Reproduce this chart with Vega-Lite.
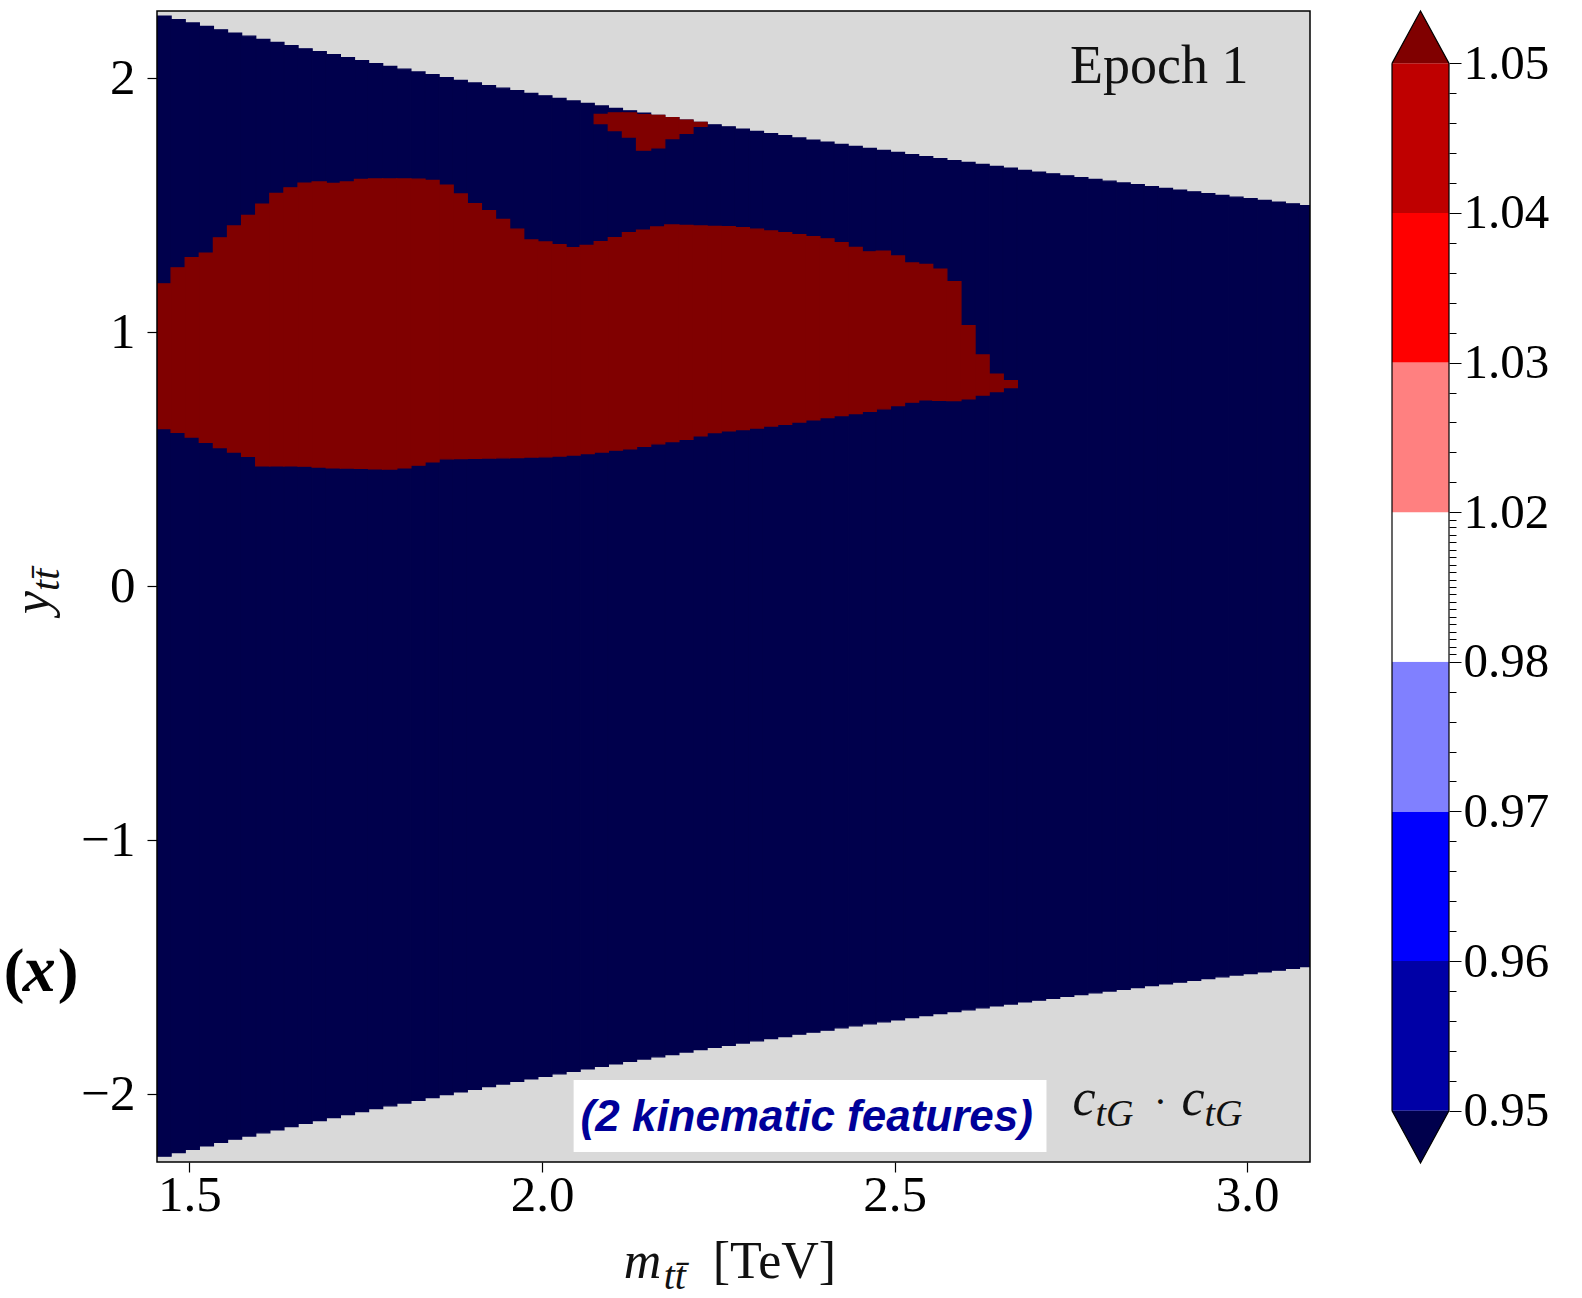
{
  "$schema": "https://vega.github.io/schema/vega-lite/v6.json",
  "padding": {"left": 3, "top": 8, "right": 5, "bottom": 3},
  "background": "white",
  "spacing": 78,
  "config": {
    "view": {"stroke": null},
    "axis": {"grid": false, "domain": false, "labelColor": "black", "tickColor": "black", "labelFont": "Liberation Serif"}
  },
  "datasets": {
    "cols": [
      {"m":1.454,"m2":1.474,"lo":-2.244,"hi":2.244,"rlo":0.620,"rhi":1.190},
      {"m":1.474,"m2":1.494,"lo":-2.230,"hi":2.230,"rlo":0.605,"rhi":1.253},
      {"m":1.494,"m2":1.514,"lo":-2.217,"hi":2.217,"rlo":0.587,"rhi":1.293},
      {"m":1.514,"m2":1.534,"lo":-2.203,"hi":2.203,"rlo":0.566,"rhi":1.311},
      {"m":1.534,"m2":1.554,"lo":-2.190,"hi":2.190,"rlo":0.545,"rhi":1.371},
      {"m":1.554,"m2":1.574,"lo":-2.177,"hi":2.177,"rlo":0.528,"rhi":1.418},
      {"m":1.574,"m2":1.594,"lo":-2.165,"hi":2.165,"rlo":0.511,"rhi":1.459},
      {"m":1.594,"m2":1.614,"lo":-2.152,"hi":2.152,"rlo":0.473,"rhi":1.504},
      {"m":1.614,"m2":1.634,"lo":-2.140,"hi":2.140,"rlo":0.473,"rhi":1.546},
      {"m":1.634,"m2":1.654,"lo":-2.128,"hi":2.128,"rlo":0.473,"rhi":1.568},
      {"m":1.654,"m2":1.674,"lo":-2.115,"hi":2.115,"rlo":0.472,"rhi":1.586},
      {"m":1.674,"m2":1.694,"lo":-2.104,"hi":2.104,"rlo":0.469,"rhi":1.591},
      {"m":1.694,"m2":1.714,"lo":-2.092,"hi":2.092,"rlo":0.466,"rhi":1.585},
      {"m":1.714,"m2":1.734,"lo":-2.080,"hi":2.080,"rlo":0.465,"rhi":1.591},
      {"m":1.734,"m2":1.754,"lo":-2.069,"hi":2.069,"rlo":0.464,"rhi":1.601},
      {"m":1.754,"m2":1.774,"lo":-2.057,"hi":2.057,"rlo":0.462,"rhi":1.603},
      {"m":1.774,"m2":1.794,"lo":-2.046,"hi":2.046,"rlo":0.461,"rhi":1.603},
      {"m":1.794,"m2":1.814,"lo":-2.035,"hi":2.035,"rlo":0.466,"rhi":1.603},
      {"m":1.814,"m2":1.834,"lo":-2.024,"hi":2.024,"rlo":0.476,"rhi":1.602},
      {"m":1.834,"m2":1.854,"lo":-2.013,"hi":2.013,"rlo":0.489,"rhi":1.597},
      {"m":1.854,"m2":1.874,"lo":-2.002,"hi":2.002,"rlo":0.501,"rhi":1.578},
      {"m":1.874,"m2":1.894,"lo":-1.991,"hi":1.991,"rlo":0.502,"rhi":1.544},
      {"m":1.894,"m2":1.914,"lo":-1.981,"hi":1.981,"rlo":0.503,"rhi":1.506},
      {"m":1.914,"m2":1.934,"lo":-1.970,"hi":1.970,"rlo":0.504,"rhi":1.478},
      {"m":1.934,"m2":1.954,"lo":-1.960,"hi":1.960,"rlo":0.505,"rhi":1.444},
      {"m":1.954,"m2":1.974,"lo":-1.950,"hi":1.950,"rlo":0.506,"rhi":1.405},
      {"m":1.974,"m2":1.994,"lo":-1.940,"hi":1.940,"rlo":0.508,"rhi":1.363},
      {"m":1.994,"m2":2.014,"lo":-1.930,"hi":1.930,"rlo":0.509,"rhi":1.355},
      {"m":2.014,"m2":2.034,"lo":-1.920,"hi":1.920,"rlo":0.512,"rhi":1.344},
      {"m":2.034,"m2":2.054,"lo":-1.910,"hi":1.910,"rlo":0.516,"rhi":1.332},
      {"m":2.054,"m2":2.074,"lo":-1.900,"hi":1.900,"rlo":0.522,"rhi":1.341},
      {"m":2.074,"m2":2.094,"lo":-1.890,"hi":1.890,"rlo":0.528,"rhi":1.356,"tlo":1.821,"thi":1.857},
      {"m":2.094,"m2":2.114,"lo":-1.881,"hi":1.881,"rlo":0.535,"rhi":1.372,"tlo":1.793,"thi":1.863},
      {"m":2.114,"m2":2.134,"lo":-1.871,"hi":1.871,"rlo":0.540,"rhi":1.391,"tlo":1.768,"thi":1.863},
      {"m":2.134,"m2":2.154,"lo":-1.862,"hi":1.862,"rlo":0.550,"rhi":1.401,"tlo":1.716,"thi":1.856},
      {"m":2.154,"m2":2.174,"lo":-1.853,"hi":1.853,"rlo":0.560,"rhi":1.414,"tlo":1.725,"thi":1.853},
      {"m":2.174,"m2":2.194,"lo":-1.844,"hi":1.844,"rlo":0.569,"rhi":1.422,"tlo":1.762,"thi":1.844},
      {"m":2.194,"m2":2.214,"lo":-1.834,"hi":1.834,"rlo":0.578,"rhi":1.420,"tlo":1.782,"thi":1.834},
      {"m":2.214,"m2":2.234,"lo":-1.825,"hi":1.825,"rlo":0.592,"rhi":1.418,"tlo":1.810,"thi":1.825},
      {"m":2.234,"m2":2.254,"lo":-1.816,"hi":1.816,"rlo":0.604,"rhi":1.416},
      {"m":2.254,"m2":2.274,"lo":-1.808,"hi":1.808,"rlo":0.611,"rhi":1.415},
      {"m":2.274,"m2":2.294,"lo":-1.799,"hi":1.799,"rlo":0.616,"rhi":1.411},
      {"m":2.294,"m2":2.314,"lo":-1.790,"hi":1.790,"rlo":0.622,"rhi":1.405},
      {"m":2.314,"m2":2.334,"lo":-1.781,"hi":1.781,"rlo":0.630,"rhi":1.398},
      {"m":2.334,"m2":2.354,"lo":-1.773,"hi":1.773,"rlo":0.637,"rhi":1.391},
      {"m":2.354,"m2":2.374,"lo":-1.764,"hi":1.764,"rlo":0.646,"rhi":1.384},
      {"m":2.374,"m2":2.394,"lo":-1.756,"hi":1.756,"rlo":0.655,"rhi":1.376},
      {"m":2.394,"m2":2.414,"lo":-1.748,"hi":1.748,"rlo":0.663,"rhi":1.367},
      {"m":2.414,"m2":2.434,"lo":-1.739,"hi":1.739,"rlo":0.671,"rhi":1.352},
      {"m":2.434,"m2":2.454,"lo":-1.731,"hi":1.731,"rlo":0.679,"rhi":1.333},
      {"m":2.454,"m2":2.474,"lo":-1.723,"hi":1.723,"rlo":0.688,"rhi":1.316},
      {"m":2.474,"m2":2.494,"lo":-1.715,"hi":1.715,"rlo":0.698,"rhi":1.319},
      {"m":2.494,"m2":2.514,"lo":-1.707,"hi":1.707,"rlo":0.711,"rhi":1.300},
      {"m":2.514,"m2":2.534,"lo":-1.699,"hi":1.699,"rlo":0.724,"rhi":1.272},
      {"m":2.534,"m2":2.554,"lo":-1.691,"hi":1.691,"rlo":0.733,"rhi":1.266},
      {"m":2.554,"m2":2.574,"lo":-1.683,"hi":1.683,"rlo":0.731,"rhi":1.248},
      {"m":2.574,"m2":2.594,"lo":-1.675,"hi":1.675,"rlo":0.730,"rhi":1.199},
      {"m":2.594,"m2":2.614,"lo":-1.668,"hi":1.668,"rlo":0.737,"rhi":1.025},
      {"m":2.614,"m2":2.634,"lo":-1.660,"hi":1.660,"rlo":0.752,"rhi":0.910},
      {"m":2.634,"m2":2.654,"lo":-1.652,"hi":1.652,"rlo":0.766,"rhi":0.834},
      {"m":2.654,"m2":2.674,"lo":-1.645,"hi":1.645,"rlo":0.781,"rhi":0.809},
      {"m":2.674,"m2":2.694,"lo":-1.637,"hi":1.637},
      {"m":2.694,"m2":2.714,"lo":-1.630,"hi":1.630},
      {"m":2.714,"m2":2.734,"lo":-1.623,"hi":1.623},
      {"m":2.734,"m2":2.754,"lo":-1.615,"hi":1.615},
      {"m":2.754,"m2":2.774,"lo":-1.608,"hi":1.608},
      {"m":2.774,"m2":2.794,"lo":-1.601,"hi":1.601},
      {"m":2.794,"m2":2.814,"lo":-1.594,"hi":1.594},
      {"m":2.814,"m2":2.834,"lo":-1.587,"hi":1.587},
      {"m":2.834,"m2":2.854,"lo":-1.580,"hi":1.580},
      {"m":2.854,"m2":2.874,"lo":-1.573,"hi":1.573},
      {"m":2.874,"m2":2.894,"lo":-1.566,"hi":1.566},
      {"m":2.894,"m2":2.914,"lo":-1.559,"hi":1.559},
      {"m":2.914,"m2":2.934,"lo":-1.552,"hi":1.552},
      {"m":2.934,"m2":2.954,"lo":-1.545,"hi":1.545},
      {"m":2.954,"m2":2.974,"lo":-1.538,"hi":1.538},
      {"m":2.974,"m2":2.994,"lo":-1.531,"hi":1.531},
      {"m":2.994,"m2":3.014,"lo":-1.525,"hi":1.525},
      {"m":3.014,"m2":3.034,"lo":-1.518,"hi":1.518},
      {"m":3.034,"m2":3.054,"lo":-1.512,"hi":1.512},
      {"m":3.054,"m2":3.074,"lo":-1.505,"hi":1.505},
      {"m":3.074,"m2":3.094,"lo":-1.498,"hi":1.498}
    ],
    "bands": [
      {"lo":0.95,"hi":0.96},
      {"lo":0.96,"hi":0.97},
      {"lo":0.97,"hi":0.98},
      {"lo":0.98,"hi":1.02},
      {"lo":1.02,"hi":1.03},
      {"lo":1.03,"hi":1.04},
      {"lo":1.04,"hi":1.05}
    ]
  },
  "hconcat": [
    {
      "width": 1153,
      "height": 1151,
      "view": {"fill": "#d9d9d9", "stroke": null},
      "layer": [
        {
          "data": {"name": "cols"},
          "mark": {"type": "rect", "fill": "#00004c", "stroke": "#00004c", "strokeWidth": 1.3, "clip": true},
          "encoding": {
            "x": {"field": "m", "type": "quantitative",
                  "scale": {"domain": [1.454, 3.089], "nice": false, "zero": false},
                  "axis": {"values": [1.5, 2.0, 2.5, 3.0], "format": ".1f", "title": null, "tickSize": 10, "tickWidth": 1.2, "labelPadding": -2, "labelFontSize": 51, "labelFlush": false, "labelOverlap": false}},
            "x2": {"field": "m2"},
            "y": {"field": "lo", "type": "quantitative",
                  "scale": {"domain": [-2.267, 2.264], "nice": false, "zero": false},
                  "axis": {"values": [-2, -1, 0, 1, 2], "format": "d", "title": null, "tickSize": 10, "tickWidth": 1.2, "labelPadding": 12, "labelFontSize": 51, "labelOverlap": false}},
            "y2": {"field": "hi"}
          }
        },
        {
          "data": {"name": "cols"},
          "transform": [{"filter": "datum.rlo != null"}],
          "mark": {"type": "rect", "fill": "#800000", "stroke": "#800000", "strokeWidth": 1.3, "clip": true},
          "encoding": {
            "x": {"field": "m", "type": "quantitative"},
            "x2": {"field": "m2"},
            "y": {"field": "rlo", "type": "quantitative"},
            "y2": {"field": "rhi"}
          }
        },
        {
          "data": {"name": "cols"},
          "transform": [{"filter": "datum.tlo != null"}],
          "mark": {"type": "rect", "fill": "#800000", "stroke": "#800000", "strokeWidth": 1.3, "clip": true},
          "encoding": {
            "x": {"field": "m", "type": "quantitative"},
            "x2": {"field": "m2"},
            "y": {"field": "tlo", "type": "quantitative"},
            "y2": {"field": "thi"}
          }
        },
        {
          "data": {"values": [{}]},
          "mark": {"type": "rect", "fillOpacity": 0, "stroke": "black", "strokeWidth": 1.5},
          "encoding": {"x": {"datum": 1.454}, "x2": {"datum": 3.089}, "y": {"datum": -2.267}, "y2": {"datum": 2.264}}
        },
        {
          "data": {"values": [{}]},
          "mark": {"type": "text", "text": "Epoch 1", "font": "Liberation Serif", "fontSize": 54, "align": "right", "baseline": "alphabetic", "color": "#111111"},
          "encoding": {"x": {"datum": 3.0017}, "y": {"datum": 1.981}}
        },
        {
          "data": {"values": [{}]},
          "mark": {"type": "rect", "fill": "white", "stroke": null},
          "encoding": {"x": {"datum": 2.0448}, "x2": {"datum": 2.7153}, "y": {"datum": -2.228}, "y2": {"datum": -1.944}}
        },
        {
          "data": {"values": [{}]},
          "mark": {"type": "text", "text": "(2 kinematic features)", "font": "Liberation Sans", "fontSize": 44, "fontWeight": "bold", "fontStyle": "italic", "align": "center", "baseline": "middle", "color": "#000099"},
          "encoding": {"x": {"datum": 2.3754}, "y": {"datum": -2.094}}
        },
        {
          "data": {"values": [{}]},
          "mark": {"type": "text", "text": "c", "font": "Liberation Serif", "fontSize": 52, "fontStyle": "italic", "align": "left", "baseline": "alphabetic", "color": "#111111"},
          "encoding": {"x": {"datum": 2.7522}, "y": {"datum": -2.0819}}
        },
        {
          "data": {"values": [{}]},
          "mark": {"type": "text", "text": "tG", "font": "Liberation Serif", "fontSize": 38, "fontStyle": "italic", "align": "left", "baseline": "alphabetic", "color": "#111111"},
          "encoding": {"x": {"datum": 2.7848}, "y": {"datum": -2.1252}}
        },
        {
          "data": {"values": [{}]},
          "mark": {"type": "text", "text": "·", "font": "Liberation Serif", "fontSize": 40, "align": "center", "baseline": "alphabetic", "color": "#111111"},
          "encoding": {"x": {"datum": 2.877}, "y": {"datum": -2.0819}}
        },
        {
          "data": {"values": [{}]},
          "mark": {"type": "text", "text": "c", "font": "Liberation Serif", "fontSize": 52, "fontStyle": "italic", "align": "left", "baseline": "alphabetic", "color": "#111111"},
          "encoding": {"x": {"datum": 2.9068}, "y": {"datum": -2.0819}}
        },
        {
          "data": {"values": [{}]},
          "mark": {"type": "text", "text": "tG", "font": "Liberation Serif", "fontSize": 38, "fontStyle": "italic", "align": "left", "baseline": "alphabetic", "color": "#111111"},
          "encoding": {"x": {"datum": 2.9394}, "y": {"datum": -2.1252}}
        },
        {
          "data": {"values": [{}]},
          "mark": {"type": "text", "text": "m", "font": "Liberation Serif", "fontSize": 52, "fontStyle": "italic", "align": "left", "baseline": "alphabetic", "color": "#111111"},
          "encoding": {"x": {"datum": 2.116}, "y": {"datum": -2.724}}
        },
        {
          "data": {"values": [{}]},
          "mark": {"type": "text", "text": "tt\u0304", "font": "Liberation Serif", "fontSize": 40, "fontStyle": "italic", "align": "left", "baseline": "alphabetic", "color": "#111111"},
          "encoding": {"x": {"datum": 2.1726}, "y": {"datum": -2.767}}
        },
        {
          "data": {"values": [{}]},
          "mark": {"type": "text", "text": "[TeV]", "font": "Liberation Serif", "fontSize": 52, "align": "left", "baseline": "alphabetic", "color": "#111111"},
          "encoding": {"x": {"datum": 2.242}, "y": {"datum": -2.724}}
        },
        {
          "data": {"values": [{}]},
          "mark": {"type": "text", "text": "y", "font": "Liberation Serif", "fontSize": 52, "fontStyle": "italic", "angle": 270, "align": "left", "baseline": "alphabetic", "color": "#111111"},
          "encoding": {"x": {"datum": 1.3005}, "y": {"datum": -0.1094}}
        },
        {
          "data": {"values": [{}]},
          "mark": {"type": "text", "text": "tt\u0304", "font": "Liberation Serif", "fontSize": 40, "fontStyle": "italic", "angle": 270, "align": "left", "baseline": "alphabetic", "color": "#111111"},
          "encoding": {"x": {"datum": 1.3147}, "y": {"datum": -0.0189}}
        },
        {
          "data": {"values": [{}]},
          "mark": {"type": "text", "text": "(", "font": "Liberation Serif", "fontSize": 62, "fontWeight": "bold", "align": "left", "baseline": "alphabetic", "color": "black"},
          "encoding": {"x": {"datum": 1.2367}, "y": {"datum": -1.5937}}
        },
        {
          "data": {"values": [{}]},
          "mark": {"type": "text", "text": "x", "font": "Liberation Serif", "fontSize": 66, "fontWeight": "bold", "fontStyle": "italic", "align": "left", "baseline": "alphabetic", "color": "black"},
          "encoding": {"x": {"datum": 1.2637}, "y": {"datum": -1.5937}}
        },
        {
          "data": {"values": [{}]},
          "mark": {"type": "text", "text": ")", "font": "Liberation Serif", "fontSize": 62, "fontWeight": "bold", "align": "left", "baseline": "alphabetic", "color": "black"},
          "encoding": {"x": {"datum": 1.3133}, "y": {"datum": -1.5937}}
        }
      ]
    },
    {
      "width": 57,
      "height": 1152,
      "view": {"stroke": null},
      "layer": [
        {
          "data": {"name": "bands"},
          "mark": {"type": "rect", "strokeWidth": 0},
          "encoding": {
            "x": {"datum": 0, "type": "quantitative", "scale": {"domain": [0, 1], "nice": false, "zero": false}, "axis": null},
            "x2": {"datum": 1},
            "y": {"field": "lo", "type": "quantitative",
                  "scale": {"domain": [0.95, 0.98, 1.02, 1.05], "range": [1099.64, 650.8, 501.2, 52.36], "nice": false, "zero": false},
                  "axis": {
                    "orient": "right", "title": null,
                    "values": [0.95,0.952,0.954,0.956,0.958,0.96,0.962,0.964,0.966,0.968,0.97,0.972,0.974,0.976,0.978,0.98,0.982,0.984,0.986,0.988,0.99,0.992,0.994,0.996,0.998,1.0,1.002,1.004,1.006,1.008,1.01,1.012,1.014,1.016,1.018,1.02,1.022,1.024,1.026,1.028,1.03,1.032,1.034,1.036,1.038,1.04,1.042,1.044,1.046,1.048,1.05],
                    "tickCount": 200,
                    "labelExpr": "indexof([0.95,0.96,0.97,0.98,1.02,1.03,1.04,1.05], datum.value) >= 0 ? format(datum.value, '.2f') : ''",
                    "tickSize": {"condition": {"test": "indexof([0.95,0.96,0.97,0.98,1.02,1.03,1.04,1.05], datum.value) >= 0", "value": 12}, "value": 7},
                    "tickWidth": 1,
                    "labelPadding": 2,
                    "labelFontSize": 49,
                    "labelOverlap": false,
                    "labelBound": false
                  }},
            "y2": {"field": "hi"},
            "color": {"field": "lo", "type": "ordinal",
                      "scale": {"domain": [0.95, 0.96, 0.97, 0.98, 1.02, 1.03, 1.04], "range": ["#0000a6", "#0000ff", "#8080ff", "#ffffff", "#ff8080", "#ff0000", "#bf0000"]},
                      "legend": null}
          }
        },
        {
          "data": {"values": [{"v": 1.05}]},
          "mark": {"type": "point", "shape": "M-1,0L0,-1.835L1,0", "size": 3249, "filled": true, "fill": "#800000", "stroke": "black", "strokeWidth": 1.2, "opacity": 1},
          "encoding": {"x": {"datum": 0.5}, "y": {"field": "v", "type": "quantitative"}}
        },
        {
          "data": {"values": [{"v": 0.95}]},
          "mark": {"type": "point", "shape": "M-1,0L0,1.835L1,0", "size": 3249, "filled": true, "fill": "#00004c", "stroke": "black", "strokeWidth": 1.2, "opacity": 1},
          "encoding": {"x": {"datum": 0.5}, "y": {"field": "v", "type": "quantitative"}}
        },
        {
          "data": {"values": [{}]},
          "mark": {"type": "rule", "color": "black", "strokeWidth": 1.2},
          "encoding": {"x": {"datum": 0}, "y": {"datum": 0.95}, "y2": {"datum": 1.05}}
        },
        {
          "data": {"values": [{}]},
          "mark": {"type": "rule", "color": "black", "strokeWidth": 1.2},
          "encoding": {"x": {"datum": 1}, "y": {"datum": 0.95}, "y2": {"datum": 1.05}}
        }
      ]
    }
  ]
}
